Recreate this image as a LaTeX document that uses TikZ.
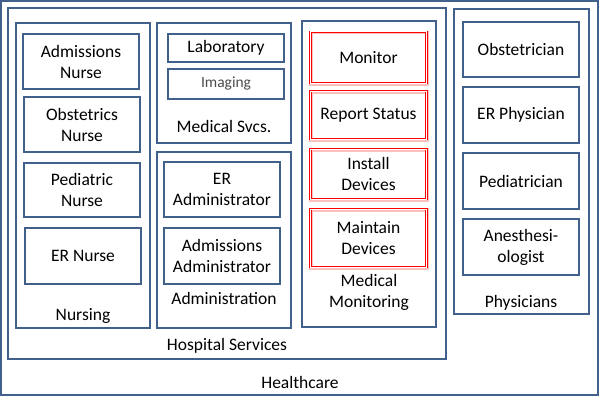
\documentclass[tikz,border=0pt]{standalone}
\usepackage{fontspec}
\setmainfont{Carlito}
\usepackage{tikz}
\definecolor{boxblue}{RGB}{66,96,140}

\begin{document}
\begin{tikzpicture}[x=1pt,y=-1pt,
  every node/.style={font=\fontsize{17.5}{21}\selectfont,align=center,inner sep=0pt},
  group/.style={rectangle,draw=boxblue,line width=1.3pt},
  role/.style={rectangle,draw=boxblue,line width=1.8pt,minimum width=116pt},
  task/.style={rectangle,draw=red,line width=0.9pt,double=white,double distance=1pt,
    preaction={draw=red!25,line width=3.6pt,transform canvas={shift={(0.7pt,-0.7pt)}}},minimum width=116pt}]
  \useasboundingbox (0,0) rectangle (605,404);

  \node[group,minimum width=597pt,minimum height=394pt] (healthcare) at (299.5,198) {};
  \node (healthcare-l) at (300,382) {Healthcare};

  \node[group,minimum width=438pt,minimum height=351pt] (hospital) at (227,183.5) {};
  \node (hospital-l) at (227,346) {Hospital Services};

  % nursing
  \node[group,minimum width=134pt,minimum height=305pt] (nursing) at (83,175.5) {};
  \node (nursing-l) at (83,316) {Nursing};
  \node[role,minimum height=55pt] (admnurse) at (81,61.5) {Admissions\\Nurse};
  \node[role,minimum height=55pt] (obsnurse) at (82,124.5) {Obstetrics\\Nurse};
  \node[role,minimum height=54pt] (pednurse) at (82,190) {Pediatric\\Nurse};
  \node[role,minimum height=56pt] (ernurse) at (83,256) {ER Nurse};

  % medical services
  \node[group,minimum width=134pt,minimum height=120pt] (medsvcs) at (224,83) {};
  \node (medsvcs-l) at (224,126) {Medical Svcs.};
  \node[role,minimum height=28pt] (lab) at (226,48) {Laboratory};
  \node[role,minimum height=30pt,text=black!70] (imaging) at (226,84) {\fontsize{15.5}{18}\selectfont Imaging};

  % administration
  \node[group,minimum width=134pt,minimum height=176pt] (admin) at (224,240) {};
  \node (admin-l) at (224,298) {Administration};
  \node[role,minimum height=55pt] (eradmin) at (222,189.5) {ER\\Administrator};
  \node[role,minimum height=56pt] (admadmin) at (222,256) {Admissions\\Administrator};

  % medical monitoring
  \node[group,minimum width=134pt,minimum height=306pt] (monitoring) at (369,174) {};
  \node (monitoring-l) at (369,292) {Medical\\Monitoring};
  \node[task,minimum height=51pt] (monitor) at (368.5,57.5) {Monitor};
  \node[task,minimum height=48pt] (report) at (368.5,115) {Report Status};
  \node[task,minimum height=50pt] (install) at (368.5,174) {Install\\Devices};
  \node[task,minimum height=58pt] (maintain) at (368.5,238) {Maintain\\Devices};

  % physicians
  \node[group,minimum width=135pt,minimum height=305pt] (physicians) at (521.5,161.5) {};
  \node (physicians-l) at (521,303) {Physicians};
  \node[role,minimum height=55pt] (obstetrician) at (521,49.5) {Obstetrician};
  \node[role,minimum height=56pt] (erphys) at (521,115) {ER Physician};
  \node[role,minimum height=56pt] (pediatrician) at (521,181) {Pediatrician};
  \node[role,minimum height=56pt] (anesth) at (521,247) {Anesthesi-\\ologist};
\end{tikzpicture}
\end{document}
